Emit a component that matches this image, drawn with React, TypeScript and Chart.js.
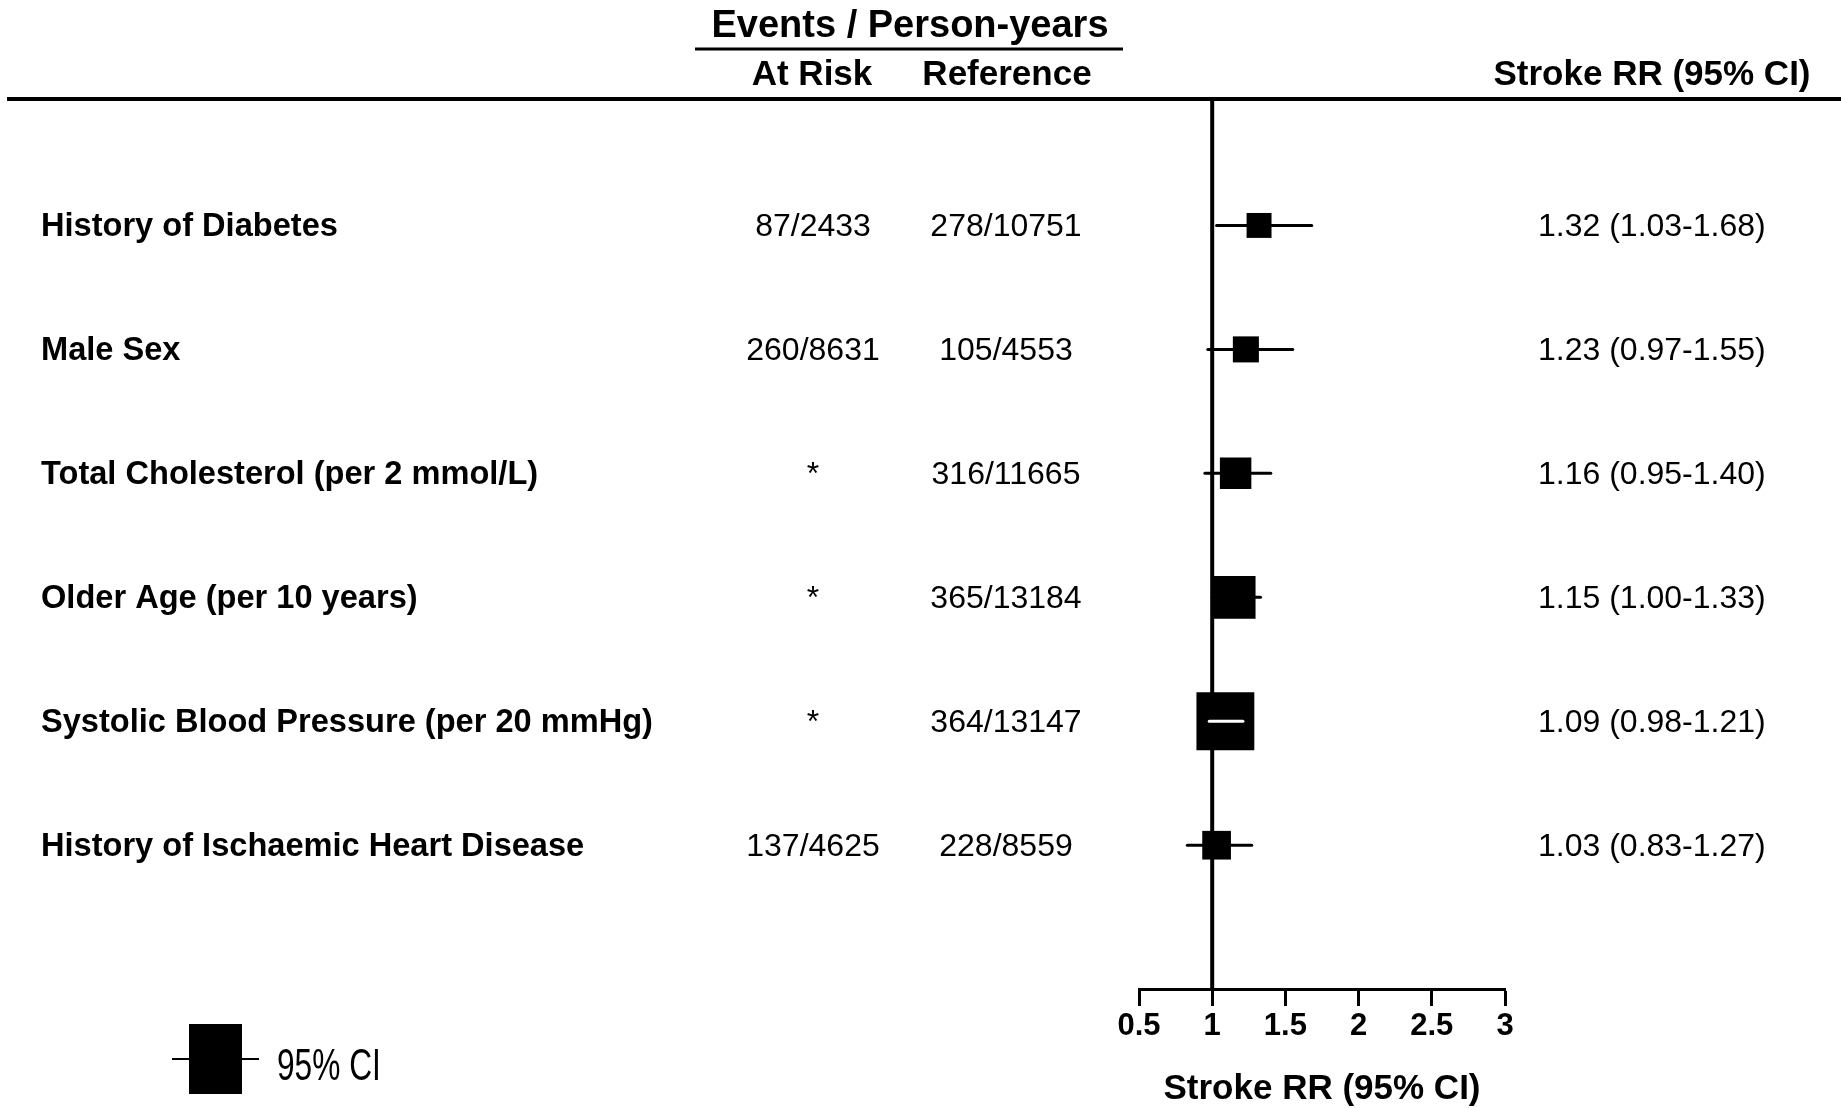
import React, { useEffect, useRef } from "react";
import { Chart, registerables } from "chart.js";

Chart.register(...registerables);

// ---------------- data ----------------
const rowLabels = [
  "History of Diabetes",
  "Male Sex",
  "Total Cholesterol (per 2 mmol/L)",
  "Older Age (per 10 years)",
  "Systolic Blood Pressure (per 20 mmHg)",
  "History of Ischaemic Heart Disease",
];
const atRiskEvents = ["87/2433", "260/8631", "*", "*", "*", "137/4625"];
const referenceEvents = ["278/10751", "105/4553", "316/11665", "365/13184", "364/13147", "228/8559"];
const rrValues = [1.32, 1.23, 1.16, 1.15, 1.09, 1.03];
const ciLower = [1.03, 0.97, 0.95, 1.0, 0.98, 0.83];
const ciUpper = [1.68, 1.55, 1.4, 1.33, 1.21, 1.27];
const rowPositions = [1, 2, 3, 4, 5, 6];
const xTickValues = [0.5, 1, 1.5, 2, 2.5, 3];
const xTickLabels = ["0.5", "1", "1.5", "2", "2.5", "3"];
const referenceValue = 1;

const headerGroup = "Events / Person-years";
const headerAtRisk = "At Risk";
const headerReference = "Reference";
const headerRR = "Stroke RR (95% CI)";
const axisTitle = "Stroke RR (95% CI)";
const legendLabel = "95% CI";

// ---------------- layout / style ----------------
const W = 1841;
const H = 1108;
const FONT = '"Liberation Sans", Arial, Helvetica, sans-serif';
const Y_MIN = -0.02;
const Y_MAX = 7.16;
const BOX_K = 12.2; // box side (px) ~ precision, 1 / ln(upper/lower)

const boxSide = (i: number) => BOX_K / Math.log(ciUpper[i] / ciLower[i]);
const fmt = (v: number) => v.toFixed(2);

const forestPlugin = {
  id: "forestText",
  afterDatasetsDraw(chart: any) {
    const ctx = chart.ctx;
    const xs = chart.scales.x;
    const ys = chart.scales.y;
    ctx.save();
    // CI lines fully hidden inside box are drawn in white
    rrValues.forEach((v, i) => {
      const half = boxSide(i) / 2;
      const cx = xs.getPixelForValue(v);
      const lo = xs.getPixelForValue(ciLower[i]);
      const hi = xs.getPixelForValue(ciUpper[i]);
      if (lo > cx - half && hi < cx + half) {
        const y = ys.getPixelForValue(rowPositions[i]);
        ctx.strokeStyle = "#fff";
        ctx.lineWidth = 3;
        ctx.lineCap = "round";
        ctx.beginPath();
        ctx.moveTo(lo, y);
        ctx.lineTo(hi, y);
        ctx.stroke();
      }
    });
    ctx.restore();
  },
  afterDraw(chart: any) {
    const ctx = chart.ctx;
    const ys = chart.scales.y;
    ctx.save();
    ctx.fillStyle = "#000";
    ctx.strokeStyle = "#000";
    ctx.textBaseline = "middle";

    // group header
    ctx.font = `bold 38px ${FONT}`;
    ctx.textAlign = "center";
    ctx.fillText(headerGroup, 910, 27);
    ctx.lineWidth = 3;
    ctx.beginPath();
    ctx.moveTo(695, 49);
    ctx.lineTo(1123, 49);
    ctx.stroke();

    ctx.font = `bold 35px ${FONT}`;
    ctx.fillText(headerAtRisk, 812, 75);
    ctx.fillText(headerReference, 1007, 75);
    ctx.fillText(headerRR, 1652, 75);

    // header rule
    ctx.lineWidth = 4;
    ctx.beginPath();
    ctx.moveTo(7, 99);
    ctx.lineTo(W, 99);
    ctx.stroke();

    // rows
    rowLabels.forEach((label, i) => {
      const y = ys.getPixelForValue(rowPositions[i]) + 2;
      ctx.font = `bold 32.6px ${FONT}`;
      ctx.textAlign = "left";
      ctx.fillText(label, 41, y);
      ctx.font = `32px ${FONT}`;
      ctx.textAlign = "center";
      ctx.fillText(atRiskEvents[i], 813, y);
      ctx.fillText(referenceEvents[i], 1006, y);
      ctx.textAlign = "left";
      ctx.fillText(`${fmt(rrValues[i])} (${fmt(ciLower[i])}-${fmt(ciUpper[i])})`, 1538, y);
    });

    // legend
    ctx.lineWidth = 2;
    ctx.beginPath();
    ctx.moveTo(172, 1059);
    ctx.lineTo(259, 1059);
    ctx.stroke();
    ctx.fillRect(189, 1024, 53, 70);
    ctx.save();
    ctx.translate(277, 1068);
    ctx.scale(0.72, 1);
    ctx.font = `44px ${FONT}`;
    ctx.textAlign = "left";
    ctx.fillText(legendLabel, 0, 0);
    ctx.restore();

    ctx.restore();
  },
};

export default function App() {
  const canvasRef = useRef<HTMLCanvasElement | null>(null);

  useEffect(() => {
    document.body.style.margin = "0";
    document.body.style.overflow = "hidden";
    const canvas = canvasRef.current;
    if (!canvas) return;

    const datasets: any[] = [
      {
        type: "scatter",
        label: "RR",
        data: rrValues.map((v, i) => ({ x: v, y: rowPositions[i] })),
        pointStyle: "rect",
        pointRadius: rrValues.map((_, i) => boxSide(i) / Math.SQRT2),
        pointHoverRadius: rrValues.map((_, i) => boxSide(i) / Math.SQRT2),
        backgroundColor: "#000",
        borderWidth: 0,
        order: 1,
      },
      ...rrValues.map((_, i) => ({
        type: "line",
        label: `CI ${rowLabels[i]}`,
        data: [
          { x: ciLower[i], y: rowPositions[i] },
          { x: ciUpper[i], y: rowPositions[i] },
        ],
        borderColor: "#000",
        borderWidth: 3,
        borderCapStyle: "round",
        pointRadius: 0,
        fill: false,
        order: 2,
      })),
      {
        type: "line",
        label: "Reference",
        data: [
          { x: referenceValue, y: Y_MIN },
          { x: referenceValue, y: Y_MAX },
        ],
        borderColor: "#000",
        borderWidth: 4,
        pointRadius: 0,
        fill: false,
        order: 3,
      },
    ];

    const chart = new Chart(canvas, {
      type: "scatter",
      data: { datasets },
      options: {
        responsive: false,
        animation: false,
        devicePixelRatio: 1,
        layout: { padding: { left: 1139, right: W - 1505, top: 99, bottom: 0 } },
        plugins: {
          legend: { display: false },
          tooltip: { enabled: false },
          title: { display: false },
        },
        scales: {
          x: {
            type: "linear",
            position: "bottom",
            min: 0.5,
            max: 3,
            afterBuildTicks: (s: any) => {
              s.ticks = xTickValues.map((v) => ({ value: v }));
            },
            afterFit: (s: any) => {
              s.height = H - 989;
            },
            grid: {
              display: true,
              drawOnChartArea: false,
              drawTicks: true,
              tickLength: 17,
              tickWidth: 3,
              tickColor: "#000",
            },
            border: { display: true, color: "#000", width: 3 },
            ticks: {
              autoSkip: false,
              maxRotation: 0,
              padding: 5,
              color: "#000",
              font: { family: FONT, size: 31, weight: "bold", lineHeight: 1 },
              callback: (v: any) => {
                const i = xTickValues.indexOf(Number(v));
                return i >= 0 ? xTickLabels[i] : "";
              },
            },
            title: {
              display: true,
              text: axisTitle,
              color: "#000",
              font: { family: FONT, size: 35, weight: "bold", lineHeight: 1 },
              padding: { top: 0, bottom: 1 },
            },
          },
          y: {
            type: "linear",
            display: false,
            reverse: true,
            min: Y_MIN,
            max: Y_MAX,
          },
        },
      } as any,
      plugins: [forestPlugin as any],
    });

    return () => chart.destroy();
  }, []);

  return (
    <div style={{ position: "absolute", left: 0, top: 0, width: W, height: H, background: "#fff" }}>
      <canvas ref={canvasRef} width={W} height={H} style={{ display: "block", width: W, height: H }} />
    </div>
  );
}
